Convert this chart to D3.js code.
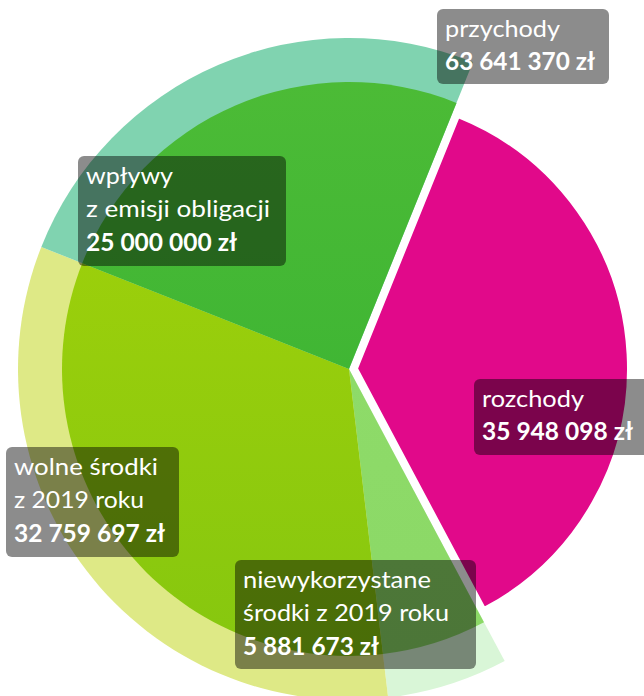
<!DOCTYPE html>
<html><head><meta charset="utf-8">
<script src="https://cdn.jsdelivr.net/npm/d3@7"></script>
<style>body{margin:0;background:#fff;overflow:hidden} svg{display:block}</style>
</head><body>
<script>
// ---- data ----
const sliceNames = ["rozchody", "niewykorzystane środki z 2019 roku", "wolne środki z 2019 roku", "wpływy z emisji obligacji"];
const sliceValues = [35948098, 5881673, 32759697, 25000000];
const labelTitles = [["przychody"], ["wpływy", "z emisji obligacji"], ["rozchody"], ["wolne środki", "z 2019 roku"], ["niewykorzystane", "środki z 2019 roku"]];
const labelValues = [63641370, 25000000, 35948098, 32759697, 5881673];

// ---- layout / style ----
const W = 644, H = 696;
const cx = 349, cy = 369;
const innerColors = ["#e1098a", "#8edb69", "#9bcf0b", "#4cbb36"];
const innerColorsDark = ["#e1098a", "#8bd866", "#86c70f", "#40b634"];
const ringColors = [null, "#d9f6d7", "#dee986", "#80d3b0"];
const labelBoxes = [
  {x: 437, y: 9, w: 172, h: 75, widths: [115], vw: 150},
  {x: 78, y: 156, w: 208, h: 110, widths: [87, 184], vw: 151},
  {x: 474, y: 379, w: 180, h: 76, widths: [102], vw: 151},
  {x: 6, y: 447, w: 173, h: 110, widths: [144, 130], vw: 151},
  {x: 235, y: 560, w: 241, h: 109, widths: [188, 206], vw: 136}
];

const svg = d3.select("body").append("svg").attr("width", W).attr("height", H);
const defs = svg.append("defs");
innerColors.forEach((c, i) => {
  const g = defs.append("linearGradient").attr("id", "g" + i).attr("x1", 0).attr("y1", 0).attr("x2", 0).attr("y2", 1);
  g.append("stop").attr("offset", "0%").attr("stop-color", c);
  g.append("stop").attr("offset", "100%").attr("stop-color", innerColorsDark[i]);
});

const start = 22.0 * Math.PI / 180;
const pie = d3.pie().sort(null).value(d => d).startAngle(start).endAngle(start + 2 * Math.PI);
const arcsData = pie(sliceValues);

const gRoot = svg.append("g").attr("transform", `translate(${cx},${cy})`);
const ringArc = d3.arc().innerRadius(0).outerRadius(331);
const innerArc = d3.arc().innerRadius(0).outerRadius(287);
const expArc = d3.arc().innerRadius(0).outerRadius(271);

// outer (light) ring for income components
gRoot.selectAll("path.ring").data(arcsData.filter((d, i) => i > 0)).join("path")
  .attr("class", "ring").attr("d", ringArc).attr("fill", d => ringColors[d.index]);

// inner income slices
gRoot.selectAll("path.inner").data(arcsData.filter((d, i) => i > 0)).join("path")
  .attr("class", "inner").attr("d", innerArc).attr("fill", d => `url(#g${d.index})`);

// exploded expenditure slice
const ex = arcsData[0];
const mid = (ex.startAngle + ex.endAngle) / 2;
gRoot.append("path").attr("d", expArc(ex)).attr("fill", innerColors[0])
  .attr("stroke", "#fff").attr("stroke-width", 2)
  .attr("transform", `translate(${Math.sin(mid) * 8},${-Math.cos(mid) * 8})`);

// labels
const fmt = v => d3.format(",")(v).replace(/,/g, " ") + " zł";
labelBoxes.forEach((b, i) => {
  const g = svg.append("g");
  g.append("rect").attr("x", b.x).attr("y", b.y).attr("width", b.w).attr("height", b.h)
    .attr("rx", 6).attr("fill", "rgba(0,0,0,0.45)");
  const lines = labelTitles[i];
  lines.forEach((t, j) => {
    g.append("text").attr("x", b.x + 8).attr("y", b.y + 27.5 + j * 33.3)
      .attr("fill", "#fff").attr("font-family", "Lato, 'Open Sans', sans-serif").attr("font-size", 24)
      .attr("textLength", b.widths[j]).attr("lengthAdjust", "spacingAndGlyphs").text(t);
  });
  g.append("text").attr("x", b.x + 8).attr("y", b.y + 27.5 + lines.length * 33.3 + 0.5)
    .attr("fill", "#fff").attr("font-family", "Lato, 'Open Sans', sans-serif").attr("font-size", 24).attr("font-weight", "bold")
    .attr("textLength", b.vw).attr("lengthAdjust", "spacingAndGlyphs").text(fmt(labelValues[i]));
});
</script>
</body></html>
